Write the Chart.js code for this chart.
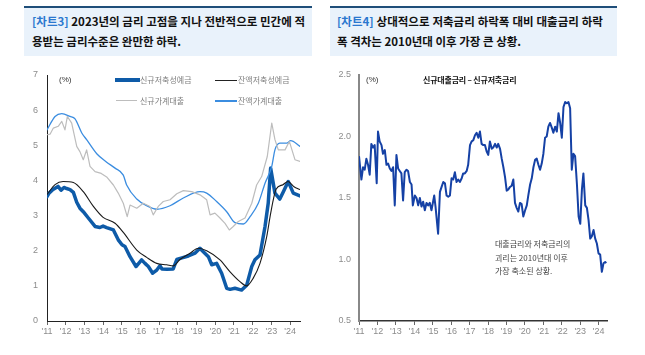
<!DOCTYPE html>
<html><head><meta charset="utf-8">
<script src="https://cdn.jsdelivr.net/npm/chart.js@4.4.1/dist/chart.umd.min.js"></script>
<style>
body{margin:0;width:645px;height:355px;background:#fff;position:relative;overflow:hidden;font-family:"Noto Sans CJK KR","Noto Sans",sans-serif}
.hdr{position:absolute;top:6px;height:50px;background:#e9f2fb;border-top:2px solid #1f4e79;box-sizing:border-box}
.hl{position:absolute;font-size:11.5px;line-height:14px;font-weight:bold;color:#111;white-space:nowrap}
.fl{display:flex;justify-content:space-between}
.tag{color:#2b78cf}
.abs{position:absolute;white-space:nowrap}
.lg{font-size:8px;line-height:10px;color:#808080}
.sw{position:absolute}
canvas{position:absolute}
</style></head><body>
<div class="hdr" style="left:24px;width:288px">
  <div class="hl fl" style="left:8px;top:6px;width:273px"><span class="tag">[차트3]</span><span>2023년의</span><span>금리</span><span>고점을</span><span>지나</span><span>전반적으로</span><span>민간에</span><span>적</span></div>
  <div class="hl" style="left:8px;top:26px">용받는 금리수준은 완만한 하락.</div>
</div>
<div class="hdr" style="left:330px;width:287px">
  <div class="hl fl" style="left:7px;top:6px;width:266px"><span class="tag">[차트4]</span><span>상대적으로</span><span>저축금리</span><span>하락폭</span><span>대비</span><span>대출금리</span><span>하락</span></div>
  <div class="hl" style="left:7px;top:26px">폭 격차는 2010년대 이후 가장 큰 상황.</div>
</div>

<canvas id="c1" width="320" height="290" style="left:0;top:60px"></canvas>
<canvas id="c2" width="300" height="290" style="left:330px;top:60px"></canvas>

<div class="abs" style="left:59px;top:75px;font-size:8px;line-height:10px;color:#333;font-family:'Liberation Sans'">(%)</div>
<div class="sw" style="left:115px;top:78px;width:25px;height:3.5px;background:#0e5ba8"></div>
<div class="abs lg" style="left:140px;top:75px">신규저축성예금</div>
<div class="sw" style="left:215px;top:79.5px;width:22px;height:1px;background:#222"></div>
<div class="abs lg" style="left:238px;top:75px">잔액저축성예금</div>
<div class="sw" style="left:116px;top:100px;width:21px;height:1.2px;background:#bdbdbd"></div>
<div class="abs lg" style="left:140px;top:95.5px">신규가계대출</div>
<div class="sw" style="left:215px;top:100px;width:22px;height:1.5px;background:#3b8de0"></div>
<div class="abs lg" style="left:238px;top:95.5px">잔액가계대출</div>

<div class="abs" style="left:366px;top:75px;font-size:8px;line-height:10px;color:#333;font-family:'Liberation Sans'">(%)</div>
<div class="abs" style="left:423px;top:75px;font-size:8px;line-height:10px;color:#111;font-weight:bold;letter-spacing:-0.2px">신규대출금리 – 신규저축금리</div>
<div class="abs" style="left:495px;top:237px;font-size:8px;line-height:13.5px;color:#444">대출금리와 저축금리의<br>괴리는 2010년대 이후<br>가장 축소된 상황.</div>

<script>
// ---- tick years ----
const yearTicks = [2011,2012,2013,2014,2015,2016,2017,2018,2019,2020,2021,2022,2023,2024];

// ---- Chart 3 data (decimal year, %) ----
const newDepT = [2011.00,2011.11,2011.32,2011.59,2011.75,2011.91,2012.05,2012.23,2012.41,2012.59,2012.76,2012.94,2013.21,2013.57,2013.83,2014.00,2014.19,2014.55,2014.81,2015.01,2015.17,2015.44,2015.76,2016.06,2016.24,2016.42,2016.65,2016.87,2017.04,2017.15,2017.42,2017.75,2017.94,2018.17,2018.56,2018.91,2019.18,2019.36,2019.63,2019.81,2020.07,2020.34,2020.61,2020.79,2021.05,2021.41,2021.68,2021.95,2022.12,2022.39,2022.66,2022.83,2022.96,2023.19,2023.45,2023.64,2023.90,2024.17,2024.53];
const newDepV = [3.54,3.64,3.74,3.83,3.72,3.80,3.77,3.74,3.66,3.38,3.21,3.11,2.93,2.69,2.66,2.70,2.66,2.59,2.31,2.17,2.12,1.83,1.55,1.74,1.64,1.55,1.36,1.45,1.57,1.48,1.47,1.48,1.75,1.79,1.85,1.93,2.07,1.97,1.83,1.60,1.64,1.36,0.93,0.90,0.93,0.88,1.02,1.55,1.74,1.88,2.69,3.35,4.35,3.64,3.47,3.68,3.97,3.64,3.56];

const balDepT = [2011.00,2011.43,2011.86,2012.41,2012.94,2013.48,2014.00,2014.64,2015.08,2015.80,2016.33,2016.87,2017.40,2017.75,2018.11,2018.65,2019.09,2019.54,2020.25,2020.79,2021.32,2021.68,2022.03,2022.39,2022.75,2022.93,2023.10,2023.25,2023.62,2023.89,2024.21,2024.53];
const balDepV = [3.60,3.88,3.97,3.94,3.68,3.26,2.95,2.78,2.52,2.02,1.81,1.64,1.60,1.57,1.75,1.93,2.07,2.00,1.74,1.40,1.12,1.00,1.22,1.64,2.40,2.97,3.45,3.75,3.88,3.97,3.82,3.74];

const newLoanT = [2011.00,2011.17,2011.34,2011.60,2011.79,2011.96,2012.09,2012.32,2012.59,2012.76,2012.94,2013.12,2013.30,2013.57,2013.90,2014.19,2014.55,2014.81,2015.08,2015.29,2015.44,2015.80,2016.15,2016.51,2016.68,2016.95,2017.22,2017.58,2017.94,2018.29,2018.74,2019.18,2019.54,2019.72,2019.98,2020.25,2020.52,2020.75,2020.96,2021.23,2021.59,2021.95,2022.21,2022.48,2022.78,2023.02,2023.19,2023.37,2023.73,2023.96,2024.26,2024.53];
const newLoanV = [5.30,5.32,5.49,5.54,5.68,5.44,5.82,5.63,4.97,4.82,4.59,4.87,4.40,4.25,4.20,4.10,3.87,3.64,3.35,2.97,3.30,3.21,3.35,3.26,3.02,3.26,3.40,3.45,3.62,3.71,3.68,3.59,3.45,3.02,3.07,2.93,2.78,2.59,2.69,2.83,2.93,3.35,3.87,4.11,4.68,5.63,5.16,4.87,4.87,5.11,4.59,4.54];

const balLoanT = [2011.00,2011.43,2011.79,2012.23,2012.50,2012.86,2013.12,2013.66,2014.19,2014.64,2015.08,2015.26,2015.80,2016.33,2016.87,2017.58,2018.29,2019.18,2019.54,2020.07,2020.61,2021.05,2021.50,2021.86,2022.30,2022.66,2023.02,2023.19,2023.45,2023.82,2024.03,2024.53];
const balLoanV = [5.44,5.82,5.90,5.82,5.75,5.35,5.16,4.76,4.52,4.35,4.15,3.87,3.47,3.28,3.18,3.28,3.50,3.68,3.64,3.40,3.11,2.80,2.76,2.97,3.35,3.92,4.40,4.87,5.06,5.06,5.13,4.97];

// ---- Chart 4 data: new loan rate - new deposit rate (%p) ----
const spreadT = [2011.00,2011.13,2011.22,2011.31,2011.40,2011.49,2011.58,2011.67,2011.76,2011.85,2011.96,2012.03,2012.12,2012.22,2012.30,2012.40,2012.49,2012.58,2012.67,2012.76,2012.85,2012.94,2013.03,2013.12,2013.21,2013.30,2013.39,2013.48,2013.58,2013.66,2013.76,2013.85,2013.92,2014.03,2014.12,2014.21,2014.30,2014.39,2014.48,2014.57,2014.66,2014.75,2014.84,2014.93,2015.08,2015.15,2015.29,2015.39,2015.48,2015.57,2015.66,2015.75,2015.84,2015.93,2016.02,2016.11,2016.20,2016.29,2016.38,2016.47,2016.57,2016.65,2016.74,2016.84,2016.92,2017.02,2017.11,2017.20,2017.29,2017.38,2017.47,2017.56,2017.65,2017.74,2017.83,2017.92,2018.01,2018.10,2018.20,2018.28,2018.38,2018.47,2018.55,2018.65,2018.74,2018.83,2018.92,2019.01,2019.10,2019.19,2019.28,2019.37,2019.46,2019.55,2019.64,2019.73,2019.82,2019.91,2020.01,2020.10,2020.18,2020.28,2020.37,2020.46,2020.55,2020.64,2020.73,2020.82,2020.91,2021.00,2021.09,2021.18,2021.27,2021.36,2021.46,2021.54,2021.64,2021.73,2021.82,2021.91,2022.00,2022.09,2022.18,2022.27,2022.36,2022.45,2022.54,2022.63,2022.72,2022.82,2022.91,2023.00,2023.09,2023.17,2023.27,2023.36,2023.45,2023.54,2023.63,2023.72,2023.81,2023.90,2023.99,2024.08,2024.17,2024.26,2024.35,2024.41];
const spreadV = [1.84,1.65,1.75,1.73,1.82,1.77,1.69,1.94,1.91,1.93,1.62,2.04,1.96,1.93,1.86,1.89,1.77,1.78,1.74,1.72,1.75,1.44,1.85,1.74,1.72,1.70,1.48,1.71,1.73,1.72,1.63,1.61,1.44,1.52,1.50,1.44,1.50,1.43,1.47,1.40,1.46,1.44,1.46,1.40,1.52,1.43,1.21,1.55,1.59,1.63,1.62,1.52,1.51,1.52,1.66,1.65,1.71,1.63,1.65,1.63,1.66,1.70,1.70,1.72,1.77,1.93,1.96,1.97,2.01,2.03,1.99,2.04,1.94,1.93,1.93,1.88,1.85,1.96,1.90,1.91,1.94,1.91,1.94,1.90,1.82,1.75,1.67,1.56,1.57,1.59,1.60,1.65,1.46,1.42,1.39,1.46,1.45,1.35,1.40,1.44,1.52,1.61,1.66,1.75,1.81,1.82,1.77,1.73,1.78,1.86,1.99,2.00,2.08,2.11,2.07,2.03,2.08,2.04,2.19,2.11,1.99,2.24,2.28,2.27,2.28,2.23,1.73,1.86,1.84,1.61,1.35,1.29,1.57,1.70,1.44,1.42,1.32,1.17,1.19,1.24,1.17,1.13,1.05,1.04,0.90,0.97,0.98,0.97];

const pts = (T, V) => T.map((t, i) => ({x: t, y: V[i]}));
const yearLabel = v => "'" + String(v).slice(2);
const tickFont = {family: "'Liberation Sans', Arial, sans-serif", size: 9};

function xScale(max, borderColor, borderWidth) {
  return {
    type: 'linear', min: 2011, max: max,
    afterBuildTicks: s => { s.ticks = yearTicks.map(v => ({value: v})); },
    afterFit: s => { s.height = 29; },
    ticks: {autoSkip: false, maxRotation: 0, padding: 1, color: '#8c8c8c', font: tickFont, callback: yearLabel},
    grid: {display: true, drawOnChartArea: false, drawTicks: true, tickLength: 4, color: '#666'},
    border: {display: true, color: borderColor, width: borderWidth}
  };
}

new Chart(document.getElementById('c1'), {
  type: 'line',
  data: {datasets: [
    {data: pts(newLoanT, newLoanV), borderColor: '#bdbdbd', borderWidth: 1.2, tension: 0},
    {data: pts(balLoanT, balLoanV), borderColor: '#3b8de0', borderWidth: 1.3, cubicInterpolationMode: 'monotone'},
    {data: pts(balDepT, balDepV), borderColor: '#1a1a1a', borderWidth: 1.1, cubicInterpolationMode: 'monotone'},
    {data: pts(newDepT, newDepV), borderColor: '#0e5ba8', borderWidth: 3.5, tension: 0}
  ]},
  options: {
    responsive: false, animation: false, devicePixelRatio: 1,
    layout: {padding: {top: 15, right: 20, left: 0, bottom: 0}},
    elements: {point: {radius: 0}, line: {borderJoinStyle: 'round', borderCapStyle: 'round'}},
    plugins: {legend: {display: false}, tooltip: {enabled: false}},
    scales: {
      x: xScale(2024.53, '#222', 1),
      y: {
        min: 0, max: 7,
        afterFit: s => { s.width = 47; },
        ticks: {stepSize: 1, padding: 9, color: '#8c8c8c', font: tickFont},
        grid: {display: false, drawTicks: false},
        border: {display: true, color: '#222', width: 1}
      }
    }
  }
});

new Chart(document.getElementById('c2'), {
  type: 'line',
  data: {datasets: [
    {data: pts(spreadT, spreadV), borderColor: '#1541a5', borderWidth: 2, tension: 0}
  ]},
  options: {
    responsive: false, animation: false, devicePixelRatio: 1,
    layout: {padding: {top: 15, right: 23, left: 0, bottom: 0}},
    elements: {point: {radius: 0}, line: {borderJoinStyle: 'round'}},
    plugins: {legend: {display: false}, tooltip: {enabled: false}},
    scales: {
      x: xScale(2024.45, '#333', 1.5),
      y: {
        min: 0.5, max: 2.5,
        afterFit: s => { s.width = 29; },
        ticks: {stepSize: 0.5, padding: 8, color: '#8c8c8c', font: tickFont, callback: v => v.toFixed(1)},
        grid: {display: false, drawTicks: false},
        border: {display: true, color: '#888', width: 2}
      }
    }
  }
});
</script>
</body></html>
